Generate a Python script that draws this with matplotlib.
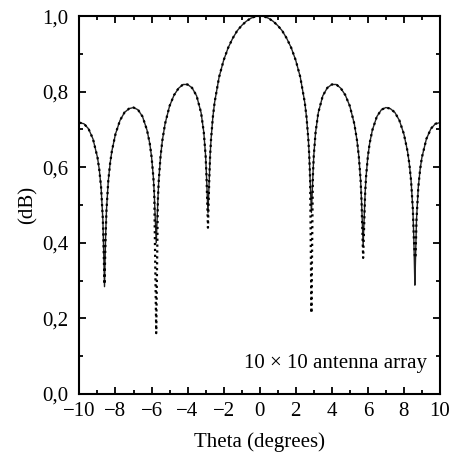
import numpy as np
import matplotlib.pyplot as plt
from matplotlib.ticker import FuncFormatter, MultipleLocator

plt.rcParams['font.family'] = ['Liberation Serif', 'DejaVu Serif']

# angle samples (degrees)
theta = [-10.0, -9.75, -9.5, -9.25, -9.0, -8.9, -8.8, -8.7, -8.65, -8.61, -8.55,
         -8.5, -8.4, -8.3, -8.2, -8.0, -7.75, -7.5, -7.25, -7.0, -6.75, -6.5,
         -6.25, -6.1, -6.0, -5.9, -5.85, -5.74, -5.65, -5.6, -5.5, -5.4, -5.25,
         -5.0, -4.75, -4.5, -4.25, -4.0, -3.75, -3.5, -3.25, -3.1, -3.0, -2.95,
         -2.87, -2.8, -2.75, -2.7, -2.6, -2.5, -2.25, -2.0, -1.75, -1.5, -1.25,
         -1.0, -0.75, -0.5, -0.25, 0.0, 0.25, 0.5, 0.75, 1.0, 1.25, 1.5, 1.75,
         2.0, 2.25, 2.5, 2.6, 2.7, 2.75, 2.8, 2.87, 2.95, 3.0, 3.1, 3.25, 3.5,
         3.75, 4.0, 4.25, 4.5, 4.75, 5.0, 5.25, 5.4, 5.5, 5.6, 5.65, 5.74, 5.85,
         5.9, 6.0, 6.1, 6.25, 6.5, 6.75, 7.0, 7.25, 7.5, 7.75, 8.0, 8.2, 8.3,
         8.4, 8.5, 8.55, 8.61, 8.65, 8.7, 8.8, 8.9, 9.0, 9.25, 9.5, 9.75, 10.0]

# solid curve
solid = [0.718, 0.715, 0.702, 0.675, 0.626, 0.594, 0.547, 0.461, 0.366, 0.284, 0.415,
         0.487, 0.564, 0.610, 0.643, 0.688, 0.724, 0.745, 0.755, 0.758, 0.752, 0.734,
         0.698, 0.663, 0.628, 0.574, 0.531, 0.400, 0.512, 0.565, 0.629, 0.671, 0.715,
         0.762, 0.791, 0.809, 0.819, 0.819, 0.810, 0.789, 0.744, 0.692, 0.630, 0.575,
         0.479, 0.565, 0.631, 0.673, 0.732, 0.772, 0.839, 0.883, 0.916, 0.941, 0.961,
         0.975, 0.986, 0.994, 0.999, 1.000, 0.999, 0.994, 0.986, 0.975, 0.961, 0.941, 0.916,
         0.883, 0.839, 0.772, 0.732, 0.673, 0.631, 0.565, 0.480, 0.575, 0.630, 0.692, 0.744, 0.789,
         0.810, 0.819, 0.819, 0.809, 0.791, 0.762, 0.715, 0.671, 0.629, 0.565, 0.512, 0.394, 0.531,
         0.574, 0.628, 0.663, 0.698, 0.734, 0.752, 0.758, 0.755, 0.745, 0.724, 0.688, 0.643, 0.610,
         0.564, 0.487, 0.415, 0.288, 0.366, 0.461, 0.547, 0.594, 0.626, 0.675, 0.702, 0.715, 0.718]

# dotted curve (differs at the nulls)
dotted = [0.718, 0.715, 0.702, 0.675, 0.626, 0.594, 0.547, 0.461, 0.366, 0.290, 0.415,
          0.487, 0.564, 0.610, 0.643, 0.688, 0.724, 0.745, 0.755, 0.758, 0.752, 0.734,
          0.698, 0.663, 0.628, 0.574, 0.531, 0.161, 0.512, 0.565, 0.629, 0.671, 0.715,
          0.762, 0.791, 0.809, 0.819, 0.819, 0.810, 0.789, 0.744, 0.692, 0.630, 0.575,
          0.440, 0.565, 0.631, 0.673, 0.732, 0.772, 0.839, 0.883, 0.916, 0.941, 0.961,
          0.975, 0.986, 0.994, 0.999, 1.000, 0.999, 0.994, 0.986, 0.975, 0.961, 0.941, 0.916,
          0.883, 0.839, 0.772, 0.732, 0.673, 0.631, 0.565, 0.214, 0.575, 0.630, 0.692, 0.744, 0.789,
          0.810, 0.819, 0.819, 0.809, 0.791, 0.762, 0.715, 0.671, 0.629, 0.565, 0.512, 0.360, 0.531,
          0.574, 0.628, 0.663, 0.698, 0.734, 0.752, 0.758, 0.755, 0.745, 0.724, 0.688, 0.643, 0.610,
          0.564, 0.487, 0.415, 0.360, 0.366, 0.461, 0.547, 0.594, 0.626, 0.675, 0.702, 0.715, 0.718]

fig = plt.figure(figsize=(4.54, 4.59), dpi=100)
ax = fig.add_axes([0.175, 0.1416, 0.794, 0.8234])

ax.plot(theta, solid, color='#222222', lw=1.0, ls='-')
ax.plot(theta, dotted, color='black', lw=1.6, ls=':')

ax.set_xlim(-10, 10)
ax.set_ylim(0, 1.0)
ax.xaxis.set_major_locator(MultipleLocator(2))
ax.xaxis.set_minor_locator(MultipleLocator(1))
ax.yaxis.set_major_locator(MultipleLocator(0.2))
ax.yaxis.set_minor_locator(MultipleLocator(0.1))
ax.yaxis.set_major_formatter(FuncFormatter(lambda v, p: f"{v:.1f}".replace('.', ',')))

ax.tick_params(which='both', direction='in', top=True, right=True, labelsize=15, width=1.3)
ax.tick_params(which='major', length=5)
ax.tick_params(which='minor', length=3)
ax.tick_params(axis='x', which='major', pad=6)
ax.tick_params(axis='y', which='major', pad=8)
for s in ax.spines.values():
    s.set_linewidth(1.5)

ax.set_xlabel('Theta (degrees)', fontsize=15, labelpad=8)
ax.set_ylabel('(dB)', fontsize=15, labelpad=3)
ax.text(0.964, 0.082, '10 × 10 antenna array', transform=ax.transAxes,
        ha='right', va='center', fontsize=15)

fig.savefig('out.png', dpi=100)
